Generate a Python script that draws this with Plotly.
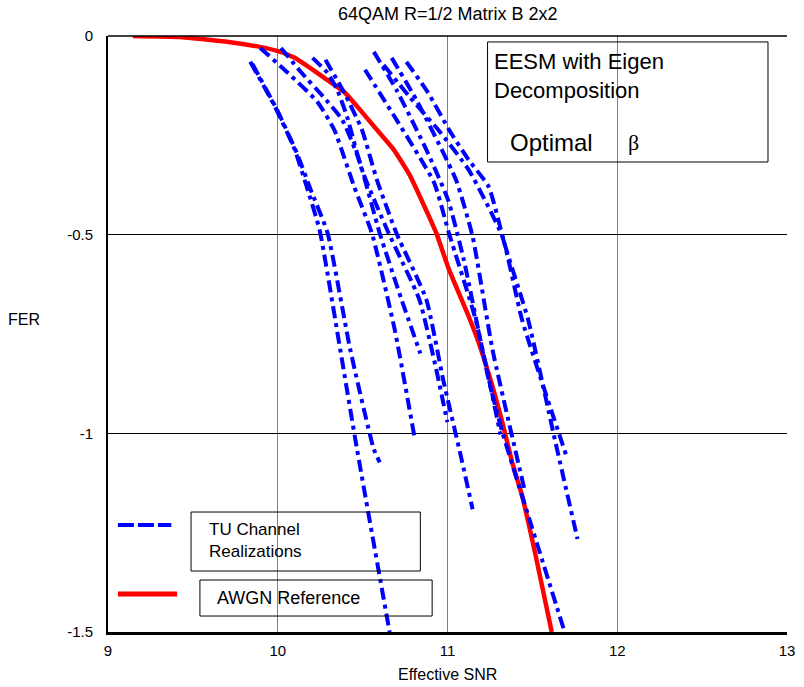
import plotly.graph_objects as go

# ---- data ----
awgn_snr = [9.146, 9.419, 9.710, 9.902, 10.001, 10.100, 10.293, 10.392, 10.485, 10.584, 10.683,
            10.776, 10.846, 10.892, 10.933, 11.009, 11.125, 11.183, 11.265, 11.323, 11.381,
            11.440, 11.515, 11.614]
awgn_fer = [0.0, -0.0025, -0.015, -0.028, -0.038, -0.055, -0.111, -0.141, -0.186, -0.236, -0.286,
            -0.349, -0.412, -0.455, -0.495, -0.588, -0.706, -0.771, -0.882, -0.972, -1.073,
            -1.158, -1.299, -1.50]

tu1_snr = [9.838, 9.984, 10.100, 10.176, 10.246, 10.368, 10.467, 10.659]
tu1_fer = [-0.065, -0.178, -0.286, -0.387, -0.487, -0.789, -1.040, -1.50]
tu2_snr = [9.850, 9.996, 10.112, 10.194, 10.293, 10.427, 10.566, 10.601]
tu2_fer = [-0.070, -0.186, -0.294, -0.387, -0.495, -0.789, -1.040, -1.073]
tu3_snr = [9.897, 10.060, 10.234, 10.333, 10.450, 10.555, 10.689, 10.805]
tu3_fer = [-0.030, -0.093, -0.166, -0.236, -0.379, -0.497, -0.739, -1.008]
tu4_snr = [10.019, 10.135, 10.275, 10.380, 10.479, 10.601, 10.729, 10.840]
tu4_fer = [-0.030, -0.090, -0.156, -0.211, -0.312, -0.497, -0.663, -0.799]
tu5_snr = [10.205, 10.293, 10.351, 10.409, 10.496, 10.654, 10.834, 10.933, 10.999]
tu5_fer = [-0.055, -0.093, -0.136, -0.204, -0.337, -0.497, -0.663, -0.838, -0.972]
tu6_snr = [10.281, 10.392, 10.496, 10.584, 10.700, 10.875, 10.974, 11.079, 11.148]
tu6_fer = [-0.060, -0.143, -0.236, -0.362, -0.497, -0.663, -0.864, -1.058, -1.191]
tu7_snr = [10.514, 10.700, 10.921, 11.009, 11.166, 11.312]
tu7_fer = [-0.085, -0.211, -0.369, -0.497, -0.714, -1.003]
tu8_snr = [10.566, 10.700, 10.875, 11.003, 11.096, 11.242, 11.323, 11.440, 11.690]
tu8_fer = [-0.040, -0.136, -0.286, -0.412, -0.563, -0.864, -0.997, -1.158, -1.50]
tu9_snr = [10.671, 10.817, 11.050, 11.148, 11.265, 11.457]
tu9_fer = [-0.055, -0.161, -0.362, -0.505, -0.789, -1.148]
tu10_snr = [10.624, 10.776, 10.945, 11.125, 11.323, 11.439, 11.707]
tu10_fer = [-0.073, -0.153, -0.236, -0.337, -0.505, -0.714, -1.065]
tu11_snr = [10.758, 10.886, 11.009, 11.125, 11.242, 11.341, 11.475, 11.632, 11.766]
tu11_fer = [-0.065, -0.143, -0.236, -0.312, -0.379, -0.530, -0.714, -1.015, -1.266]

tu_snr = [tu1_snr, tu2_snr, tu3_snr, tu4_snr, tu5_snr, tu6_snr,
          tu7_snr, tu8_snr, tu9_snr, tu10_snr, tu11_snr]
tu_fer = [tu1_fer, tu2_fer, tu3_fer, tu4_fer, tu5_fer, tu6_fer,
          tu7_fer, tu8_fer, tu9_fer, tu10_fer, tu11_fer]

x_ticks = [9, 10, 11, 12, 13]
x_tick_labels = ["9", "10", "11", "12", "13"]
y_ticks = [0, -0.5, -1, -1.5]
y_tick_labels = ["0", "-0.5", "-1", "-1.5"]

title_text = "64QAM R=1/2 Matrix B 2x2"
x_title = "Effective SNR"
y_title = "FER"

# ---- figure ----
fig = go.Figure()

fig.add_trace(go.Scatter(x=awgn_snr, y=awgn_fer, mode="lines",
                         line=dict(color="#ff0000", width=4.5, shape="spline", smoothing=0.4),
                         showlegend=False, name="AWGN Reference"))
for xs, ys in zip(tu_snr, tu_fer):
    fig.add_trace(go.Scatter(x=xs, y=ys, mode="lines",
                             line=dict(color="#0000ff", width=4, dash="12px,5px,4px,5px",
                                       shape="spline", smoothing=0.5),
                             showlegend=False, name="TU Channel Realizations"))

font_family = "Liberation Sans, Arial, sans-serif"

fig.update_layout(
    width=804, height=687,
    margin=dict(l=108, r=9, t=36, b=55),
    paper_bgcolor="white", plot_bgcolor="white",
    font=dict(family=font_family, size=15, color="black"),
    showlegend=False,
    xaxis=dict(range=[9, 13], tickvals=x_ticks, ticktext=x_tick_labels,
               showgrid=True, gridcolor="#808080", gridwidth=1,
               showline=True, linecolor="black", linewidth=3,
               zeroline=False, ticks="outside", ticklen=3, tickcolor="rgba(0,0,0,0)",
               tickfont=dict(size=15)),
    yaxis=dict(range=[-1.5, 0], tickvals=y_ticks, ticktext=y_tick_labels,
               showgrid=True, gridcolor="black", gridwidth=1,
               showline=True, linecolor="black", linewidth=2,
               zeroline=False, ticks="outside", ticklen=10, tickcolor="rgba(0,0,0,0)",
               tickfont=dict(size=15)),
)

shapes = [
    # top frame line
    dict(type="line", xref="paper", yref="paper", x0=0, x1=1, y0=1, y1=1,
         line=dict(color="black", width=1.5)),
    # legend samples
    dict(type="line", xref="paper", yref="paper", x0=0.0146, x1=0.0932, y0=0.1795, y1=0.1795,
         line=dict(color="#0000ff", width=4, dash="16px,4px")),
    dict(type="line", xref="paper", yref="paper", x0=0.0146, x1=0.1018, y0=0.0638, y1=0.0638,
         line=dict(color="#ff0000", width=5)),
    # legend text boxes
    dict(type="rect", xref="paper", yref="paper", x0=0.1223, x1=0.460, y0=0.1023, y1=0.2013,
         line=dict(color="black", width=1), fillcolor="rgba(0,0,0,0)"),
    dict(type="rect", xref="paper", yref="paper", x0=0.1354, x1=0.4774, y0=0.0268, y1=0.0872,
         line=dict(color="black", width=1), fillcolor="rgba(0,0,0,0)"),
    # EESM box
    dict(type="rect", xref="paper", yref="paper", x0=0.559, x1=0.972, y0=0.7886, y1=0.990,
         line=dict(color="black", width=1), fillcolor="rgba(0,0,0,0)"),
]
fig.update_layout(shapes=shapes)


def note(text, x, y, size, xanchor="left", family=None):
    f = dict(size=size)
    if family:
        f["family"] = family
    return dict(text=text, xref="paper", yref="paper", x=x, y=y,
                xanchor=xanchor, yanchor="middle", align="left", showarrow=False, font=f)


annotations = [
    note(title_text, 0.5, 1.037, 18, xanchor="center"),
    note(y_title, -0.124, 0.5235, 16, xanchor="center"),
    note(x_title, 0.5, -0.0705, 16, xanchor="center"),
    note("TU Channel<br>Realizations", 0.1455, 0.1536, 17),
    note("AWGN Reference", 0.1572, 0.057, 18),
    note("EESM with Eigen<br>Decomposition", 0.566, 0.9329, 22),
    note("Optimal", 0.589, 0.821, 24),
    note("β", 0.763, 0.821, 22, family="Liberation Serif, Times New Roman, serif"),
]
fig.update_layout(annotations=annotations)

fig.write_html("out.html", config={"displayModeBar": False},
               post_script="document.body.style.margin='0';")
